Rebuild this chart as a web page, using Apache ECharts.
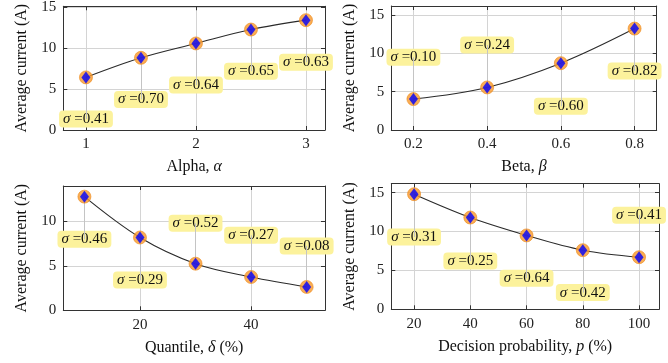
<!DOCTYPE html>
<html><head><meta charset="utf-8">
<script src="https://cdn.jsdelivr.net/npm/echarts@6/dist/echarts.min.js"></script>
<style>html,body{margin:0;padding:0;background:#fff}#c{width:668px;height:363px}</style>
</head><body><div id="c"></div>
<script>
// ---- data ----
const alphaX = [1, 1.5, 2, 2.5, 3];
const alphaY = [6.44, 8.84, 10.6, 12.3, 13.45];
const alphaSigma = ['0.41', '0.70', '0.64', '0.65', '0.63'];
const alphaTicks = [1, 2, 3];

const betaX = [0.2, 0.4, 0.6, 0.8];
const betaY = [4.04, 5.56, 8.73, 13.25];
const betaSigma = ['0.10', '0.24', '0.60', '0.82'];
const betaTicks = [0.2, 0.4, 0.6, 0.8];

const quantileX = [10, 20, 30, 40, 50];
const quantileY = [12.8, 8.2, 5.25, 3.75, 2.63];
const quantileSigma = ['0.46', '0.29', '0.52', '0.27', '0.08'];
const quantileTicks = [20, 40];

const probX = [20, 40, 60, 80, 100];
const probY = [14.8, 11.8, 9.5, 7.6, 6.7];
const probSigma = ['0.31', '0.25', '0.64', '0.42', '0.41'];
const probTicks = [20, 40, 60, 80, 100];

const yTicks = [0, 5, 10, 15];

// annotation anchor heights (data units) where each sigma label sits
const alphaLabelAt = [1.34, 3.75, 5.5, 7.2, 8.3];
const betaLabelAt = [9.5, 11.1, 3.1, 7.7];
const quantileLabelAt = [8.0, 3.4, 9.8, 8.45, 7.25];
const probLabelAt = [9.3, 6.2, 4.0, 2.15, 12.1];

// ---- chart ----
const FONT = '"Liberation Serif", "DejaVu Serif", serif';
const panels = [
  {x: alphaX, y: alphaY, s: alphaSigma, at: alphaLabelAt, ticks: alphaTicks, xmin: 0.794, xmax: 3.173, ymax: 15.15,
   name: 'Alpha, {i|α}', grid: {left: 63.3, top: 6, width: 261.7, height: 124}},
  {x: betaX, y: betaY, s: betaSigma, at: betaLabelAt, ticks: betaTicks, xmin: 0.14, xmax: 0.86, ymax: 16.2,
   name: 'Beta, {i|β}', grid: {left: 391.3, top: 6, width: 265.4, height: 124}},
  {x: quantileX, y: quantileY, s: quantileSigma, at: quantileLabelAt, ticks: quantileTicks, xmin: 6.2, xmax: 53.3, ymax: 14.0,
   name: 'Quantile, {i|δ} (%)', grid: {left: 63.3, top: 186, width: 261.7, height: 124.3}},
  {x: probX, y: probY, s: probSigma, at: probLabelAt, ticks: probTicks, xmin: 11.9, xmax: 107.1, ymax: 16.15,
   name: 'Decision probability, {i|p} (%)', grid: {left: 391.3, top: 183.7, width: 267.7, height: 125.6}}
];

const grids = [], xAxes = [], yAxes = [], series = [];
const axisLine = {show: true, onZero: false, lineStyle: {color: '#333', width: 1}};
const tickStyle = {color: '#333', width: 1};
const gridLine = {show: true, lineStyle: {color: '#d4d4d4', width: 1}};

panels.forEach((p, i) => {
  grids.push(Object.assign({containLabel: false}, p.grid));
  xAxes.push({
    type: 'value', gridIndex: i, position: 'bottom', min: p.xmin, max: p.xmax,
    axisLine, axisTick: {show: true, inside: true, length: 4, lineStyle: tickStyle, customValues: p.ticks},
    axisLabel: {show: true, customValues: p.ticks, color: '#222', fontSize: 15, fontFamily: FONT, margin: 7},
    splitLine: gridLine,
    name: p.name, nameLocation: 'middle', nameGap: 29,
    nameTextStyle: {fontSize: 16, fontFamily: FONT, color: '#111',
      rich: {i: {fontSize: 16, fontFamily: FONT, fontStyle: 'italic', color: '#111'}}}
  });
  xAxes.push({
    type: 'value', gridIndex: i, position: 'top', min: p.xmin, max: p.xmax,
    axisLine, axisTick: {show: true, inside: true, length: 4, lineStyle: tickStyle, customValues: p.ticks},
    axisLabel: {show: false}, splitLine: {show: false}
  });
  yAxes.push({
    type: 'value', gridIndex: i, position: 'left', min: 0, max: p.ymax,
    axisLine, axisTick: {show: true, inside: true, length: 4, lineStyle: tickStyle, customValues: yTicks},
    axisLabel: {show: true, customValues: yTicks, color: '#222', fontSize: 15, fontFamily: FONT, margin: 7},
    splitLine: gridLine,
    name: 'Average current (A)', nameLocation: 'middle', nameGap: 34, nameRotate: 90,
    nameTextStyle: {fontSize: 16, fontFamily: FONT, color: '#111'}
  });
  yAxes.push({
    type: 'value', gridIndex: i, position: 'right', min: 0, max: p.ymax,
    axisLine, axisTick: {show: true, inside: true, length: 4, lineStyle: tickStyle, customValues: yTicks},
    axisLabel: {show: false}, splitLine: {show: false}
  });
  const xi = 2 * i, yi = 2 * i;
  const pts = p.x.map((x, k) => [x, p.y[k]]);
  // pins
  series.push({
    type: 'scatter', xAxisIndex: xi, yAxisIndex: yi, data: [], z: 2, silent: true,
    markLine: {
      silent: true, symbol: ['none', 'none'], animation: false,
      label: {show: false},
      lineStyle: {color: '#c4c4c4', width: 1, type: 'solid'},
      data: p.x.map((x, k) => [{coord: [x, p.y[k]]}, {coord: [x, p.at[k]]}])
    }
  });
  // sigma labels
  series.push({
    type: 'scatter', xAxisIndex: xi, yAxisIndex: yi, z: 3, silent: true, clip: false,
    symbol: 'circle', symbolSize: 2, itemStyle: {color: 'rgba(0,0,0,0)'},
    data: p.x.map((x, k) => [x, p.at[k]]),
    label: {
      show: true, position: 'inside', opacity: 1,
      formatter: (d) => '{s|σ}{t| =' + p.s[d.dataIndex] + '}',
      backgroundColor: '#fcf29c', borderRadius: 4, padding: [1, 4],
      rich: {
        s: {fontSize: 15, fontFamily: FONT, fontStyle: 'italic', color: '#111', lineHeight: 15},
        t: {fontSize: 15, fontFamily: FONT, color: '#111', lineHeight: 15}
      }
    }
  });
  // curve
  series.push({
    type: 'line', xAxisIndex: xi, yAxisIndex: yi, z: 4, data: pts, smooth: 0.35,
    showSymbol: false, lineStyle: {color: '#2a2a2a', width: 1.1}, silent: true
  });
  // markers
  series.push({
    type: 'scatter', xAxisIndex: xi, yAxisIndex: yi, z: 5, data: pts, symbol: 'circle',
    symbolSize: 13, itemStyle: {color: '#f8982a', borderColor: '#ee8a1c', borderWidth: 0.8}, silent: true
  });
  series.push({
    type: 'scatter', xAxisIndex: xi, yAxisIndex: yi, z: 6, data: pts, symbol: 'diamond',
    symbolSize: [9, 12], itemStyle: {color: '#0000ff'}, silent: true
  });
});

const chart = echarts.init(document.getElementById('c'), null, {renderer: 'canvas'});
chart.setOption({animation: false, backgroundColor: '#fff', grid: grids, xAxis: xAxes, yAxis: yAxes, series});
</script>
</body></html>
